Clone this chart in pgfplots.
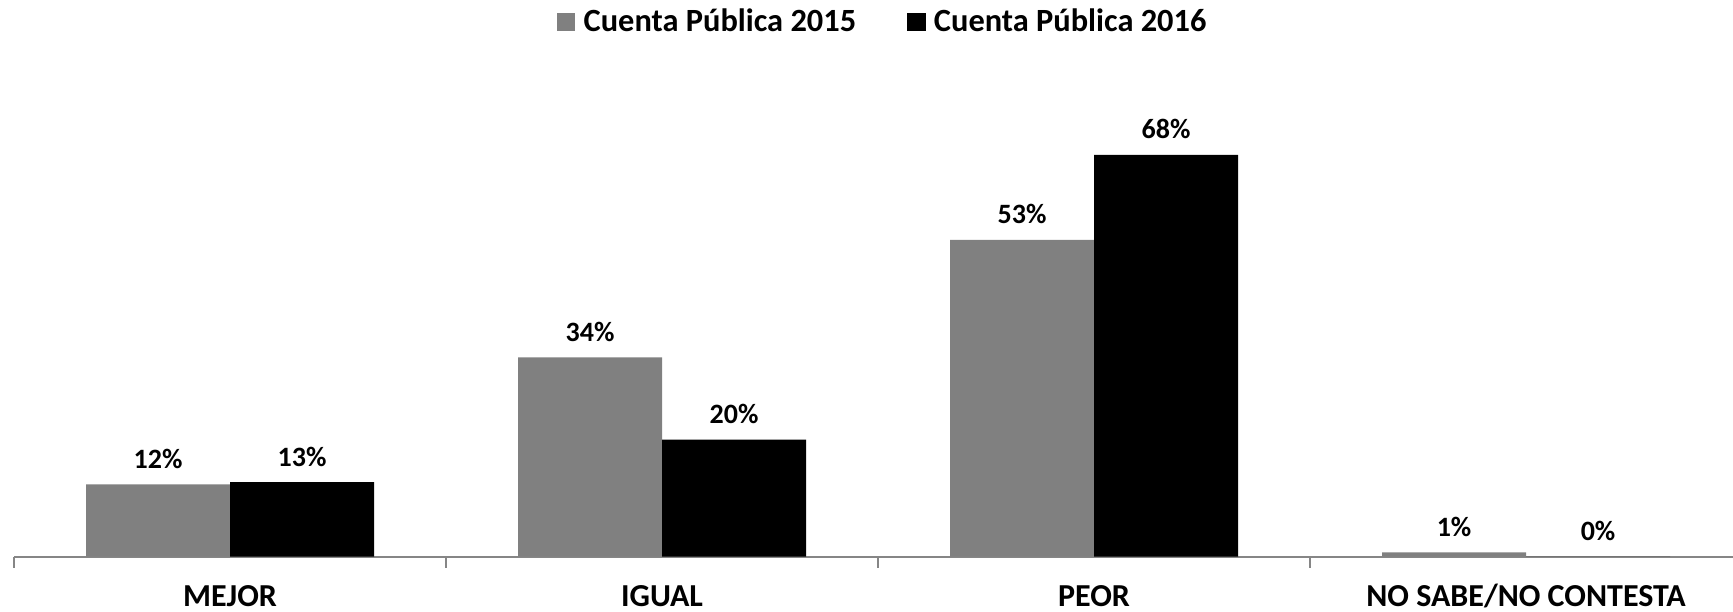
\documentclass[border=0pt]{standalone}
\usepackage{fontspec}
\setmainfont{Carlito}
\usepackage{pgfplots}
\pgfplotsset{compat=1.18}
\definecolor{bargray}{RGB}{128,128,128}
\definecolor{axisgray}{RGB}{134,134,134}
\begin{document}
\begin{tikzpicture}
\begin{axis}[
  scale only axis,
  width=859.5pt, height=278.25pt,
  xmin=-0.5, xmax=3.479,
  ymin=0, ymax=94.2,
  axis x line*=bottom,
  axis y line=none,
  x axis line style={draw=axisgray, line width=1pt, -},
  xtick={0,1,2,3},
  xticklabels={MEJOR,IGUAL,PEOR,NO SABE/NO CONTESTA},
  major tick length=0pt,
  extra x ticks={-0.5,0.5,1.5,2.5},
  extra x tick labels={},
  extra x tick style={major tick length=5.5pt, tick align=outside, tick style={draw=axisgray, line width=1pt}},
  x tick label style={font=\fontsize{16}{19}\selectfont\bfseries, anchor=base, inner sep=0pt, yshift=-24.75pt},
  ybar, bar width=72pt,
  point meta=explicit symbolic,
  nodes near coords={\pgfplotspointmeta\%},
  every node near coord/.append style={font=\fontsize{14}{17}\selectfont\bfseries, anchor=base, inner sep=0pt, yshift=8pt},
  legend columns=2,
  legend style={draw=none, fill=none, at={(0.5058,1)}, yshift=-11pt, anchor=center, inner sep=0pt,
    font=\fontsize{16.2}{19}\selectfont\bfseries,
    /tikz/every odd column/.append style={column sep=2.2pt},
    /tikz/every even column/.append style={column sep=23.3pt}},
  legend image code/.code={\path[#1] (0pt,-4.7pt) rectangle (9.4pt,4.7pt);},
]
\addplot[fill=bargray, draw=none, bar shift=-36pt] coordinates {(0,12.2) [12] (1,33.7) [34] (2,53.6) [53] (3,0.7) [1]};
\addplot[fill=black, draw=none, bar shift=36pt] coordinates {(0,12.6) [13] (1,19.8) [20] (2,68) [68] (3,0) [0]};
\legend{Cuenta Pública 2015,Cuenta Pública 2016}
\end{axis}
\pgfresetboundingbox
\path (-7pt,-27.25pt) rectangle (859.5pt,278.25pt);
\end{tikzpicture}
\end{document}
